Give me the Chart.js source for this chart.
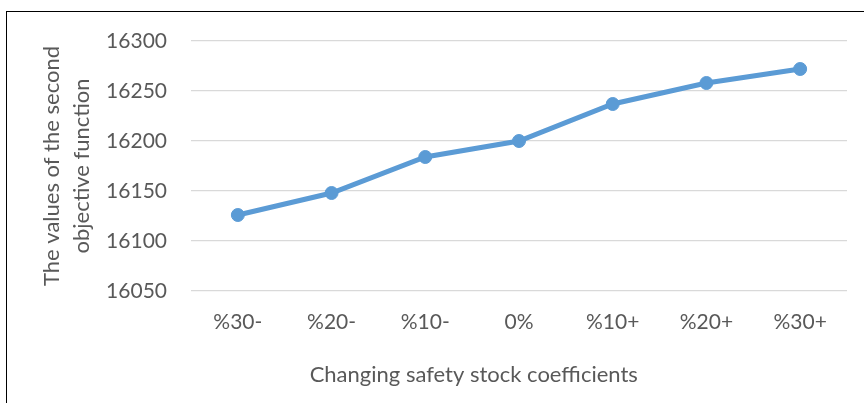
<!DOCTYPE html>
<html>
<head>
<meta charset="utf-8">
<script src="https://cdn.jsdelivr.net/npm/chart.js@4/dist/chart.umd.min.js"></script>
<style>
  html, body { margin: 0; padding: 0; background: #ffffff; }
  #wrap { position: relative; width: 864px; height: 403px; overflow: hidden; }
  #frame {
    position: absolute; left: 6px; top: 11px; width: 900px; height: 420px;
    border-left: 1.6px solid #000; border-top: 1.6px solid #000;
    pointer-events: none;
  }
  canvas { position: absolute; left: 0; top: 0; }
</style>
</head>
<body>
<div id="wrap">
  <canvas id="chart" width="864" height="403"></canvas>
  <div id="frame"></div>
</div>
<script>
// Safety stock coefficient scenarios and the resulting second objective value
const categories = ['%30-', '%20-', '%10-', '0%', '%10+', '%20+', '%30+'];
const objectiveValues = [16126, 16148, 16184, 16200, 16237, 16258, 16272];
const yTicks = [16050, 16100, 16150, 16200, 16250, 16300];

const xTitle = 'Changing safety stock coefficients';
const yTitle = ['The values of the second', 'objective function'];

const FONT = 'Lato, "Liberation Sans", sans-serif';
const TEXT = '#595959';

// Horizontal axis caption, drawn centred slightly left of the plot middle
const xCaption = {
  id: 'xCaption',
  afterDraw(chart) {
    const { ctx, chartArea } = chart;
    ctx.save();
    ctx.font = '22px ' + FONT;
    ctx.fillStyle = TEXT;
    ctx.textAlign = 'center';
    ctx.textBaseline = 'alphabetic';
    const cx = chartArea.left + chartArea.width * 0.431;
    ctx.fillText(xTitle, cx, chartArea.bottom + 91);
    ctx.restore();
  }
};

new Chart(document.getElementById('chart'), {
  type: 'line',
  data: {
    labels: categories,
    datasets: [{
      data: objectiveValues,
      borderColor: '#5B9BD5',
      backgroundColor: '#5B9BD5',
      borderWidth: 5,
      pointRadius: 6.5,
      pointBorderWidth: 1,
      pointBackgroundColor: '#5B9BD5',
      pointBorderColor: '#5B9BD5',
      tension: 0,
      fill: false
    }]
  },
  options: {
    responsive: false,
    animation: false,
    events: [],
    layout: { padding: { left: 10, right: 17, top: 41, bottom: 0 } },
    plugins: { legend: { display: false }, tooltip: { enabled: false } },
    scales: {
      x: {
        offset: true,
        grid: { display: false, drawTicks: false },
        border: { display: false },
        ticks: { color: TEXT, font: { family: FONT, size: 21 }, padding: 19, maxRotation: 0 },
        afterFit(scale) { scale.height = 112; }
      },
      y: {
        min: 16050,
        max: 16300,
        afterBuildTicks(scale) { scale.ticks = yTicks.map(v => ({ value: v })); },
        grid: { color: '#D9D9D9', lineWidth: 1.2, drawTicks: false },
        border: { display: false },
        ticks: {
          color: TEXT,
          font: { family: FONT, size: 21 },
          padding: 24,
          callback: (v) => String(v)
        },
        title: {
          display: true,
          text: yTitle,
          color: TEXT,
          font: { family: FONT, size: 22, lineHeight: 1.364 },
          padding: { top: 27, bottom: 0 }
        },
        afterFit(scale) { scale.width = 181; }
      }
    }
  },
  plugins: [xCaption]
});
</script>
</body>
</html>
